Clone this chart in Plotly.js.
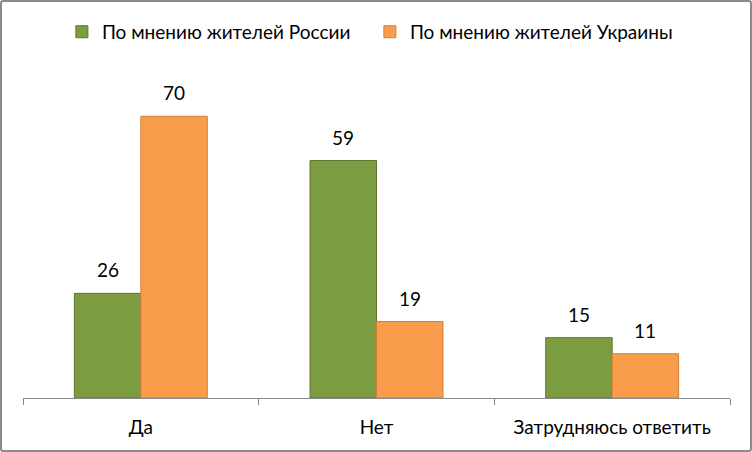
<!DOCTYPE html>
<html>
<head>
<meta charset="utf-8">
<script src="https://cdn.plot.ly/plotly-3.0.1.min.js"></script>
<style>
html,body{margin:0;padding:0;background:#fff;}
#wrap{position:relative;width:752px;height:452px;}
#chart{width:752px;height:452px;}
#frame{position:absolute;left:0;top:0;width:752px;height:452px;box-sizing:border-box;border:2px solid #8a8a8a;border-radius:3px;pointer-events:none;}
</style>
</head>
<body>
<div id="wrap"><div id="chart"></div><div id="frame"></div></div>
<script>
var categories = ["Да", "Нет", "Затрудняюсь ответить"];
var russiaValues = [26, 59, 15];
var ukraineValues = [70, 19, 11];
var seriesNames = ["По мнению жителей России", "По мнению жителей Украины"];

var font = "Lato, 'Open Sans', sans-serif";
var traces = [
  {type:"bar", name:seriesNames[0], x:categories, y:russiaValues,
   marker:{color:"#7C9C42", line:{color:"#5E7730", width:1}}},
  {type:"bar", name:seriesNames[1], x:categories, y:ukraineValues,
   marker:{color:"#F99D4C", line:{color:"#D27F39", width:1}}}
];

var annotations = [];
[russiaValues, ukraineValues].forEach(function(vals, si){
  vals.forEach(function(v, i){
    annotations.push({x:categories[i], y:v, xref:"x", yref:"y", text:String(v),
      showarrow:false, yanchor:"bottom", yshift:10, xshift:(si===0?-33.3:33.3),
      font:{size:19, family:font, color:"#000"}});
  });
});

var layout = {
  width:752, height:452,
  margin:{l:23, r:22, t:76, b:54, autoexpand:false},
  paper_bgcolor:"#fff", plot_bgcolor:"#fff",
  font:{family:font, size:19, color:"#000"},
  barmode:"group", bargap:0.436, bargroupgap:0,
  showlegend:true,
  legend:{orientation:"h", x:0.055, xanchor:"left", y:1.137, yanchor:"middle",
          font:{size:19, family:font}, entrywidth:263, traceorder:"normal"},
  annotations:annotations,
  xaxis:{showline:true, linecolor:"#8a8a8a", linewidth:1, ticks:"outside",
         tickson:"boundaries", ticklen:6, tickcolor:"#8a8a8a", ticklabelstandoff:12,
         tickfont:{size:19, family:font, color:"#000"}, showgrid:false, zeroline:false},
  yaxis:{range:[0,80], visible:false, showgrid:false, zeroline:false}
};
Plotly.newPlot("chart", traces, layout, {displayModeBar:false, staticPlot:true});
</script>
</body>
</html>
